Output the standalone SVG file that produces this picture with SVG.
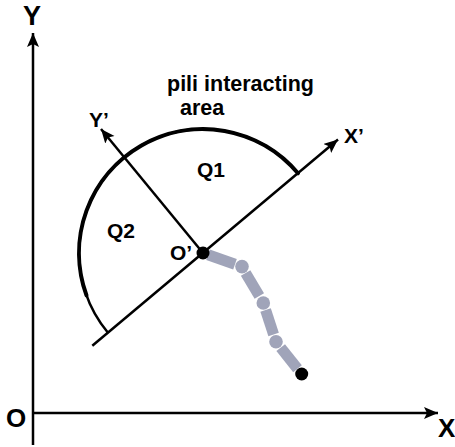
<svg xmlns="http://www.w3.org/2000/svg" width="455" height="447" viewBox="0 0 455 447">
<style>
text{font-family:"Liberation Sans",Arial,sans-serif;font-weight:bold;fill:#000}
.ax{stroke:#000;stroke-width:2.5;fill:none}
.bar{stroke:#a0a4b9;stroke-width:11;fill:none}
.joint{fill:#a0a4b9}
</style>
<defs>
<marker id="arr" markerUnits="userSpaceOnUse" markerWidth="16" markerHeight="14" refX="14" refY="6" orient="auto">
<path d="M0,0 L14,6 L0,12 L3,6 Z" fill="#000"/>
</marker>
</defs>
<rect width="455" height="447" fill="#fff"/>
<g id="connectors">
<line class="ax" x1="33" y1="445" x2="33" y2="33" marker-end="url(#arr)"/>
<line class="ax" x1="33" y1="413" x2="438" y2="413" marker-end="url(#arr)"/>
<line class="ax" x1="92.3" y1="345.7" x2="338" y2="139.5" marker-end="url(#arr)"/>
<line class="ax" x1="203" y1="253" x2="101" y2="129" marker-end="url(#arr)"/>
</g>
<g id="area-arc">
<path d="M298,173.3 A124,124 0 0 0 108,332.7" fill="none" stroke="#000" stroke-width="2.5"/>
<path d="M298,173.3 A124,124 0 0 0 86.5,295.4" fill="none" stroke="#000" stroke-width="4" stroke-linecap="round"/>
</g>
<g id="pili">
<line class="bar" x1="208" y1="254.8" x2="235" y2="264.2"/>
<circle class="joint" cx="242" cy="266.6" r="6.8"/>
<line class="bar" x1="245.6" y1="273" x2="259.3" y2="296"/>
<circle class="joint" cx="263.3" cy="303" r="6.8"/>
<line class="bar" x1="265.6" y1="310" x2="273.6" y2="334.5"/>
<circle class="joint" cx="276" cy="341.7" r="6.8"/>
<line class="bar" x1="280.7" y1="347.6" x2="297.5" y2="368.7"/>
<circle cx="301.7" cy="374" r="6.5" fill="#000"/>
</g>
<g id="origin-prime">
<circle cx="203" cy="253" r="6.5" fill="#000"/>
<text x="170" y="260" font-size="21">O’</text>
</g>
<g id="label-Y"><text x="23" y="25" font-size="27">Y</text></g>
<g id="label-O"><text x="6" y="427" font-size="26">O</text></g>
<g id="label-X"><text x="438" y="437" font-size="26">X</text></g>
<g id="label-Xp"><text x="344" y="143" font-size="21">X’</text></g>
<g id="label-Yp"><text x="89" y="127" font-size="21">Y’</text></g>
<g id="label-Q1"><text x="197" y="177" font-size="21">Q1</text></g>
<g id="label-Q2"><text x="107" y="238" font-size="21">Q2</text></g>
<g id="label-area">
<text x="167" y="91" font-size="21.5">pili interacting</text>
<text x="180" y="115" font-size="21.5">area</text>
</g>
</svg>
